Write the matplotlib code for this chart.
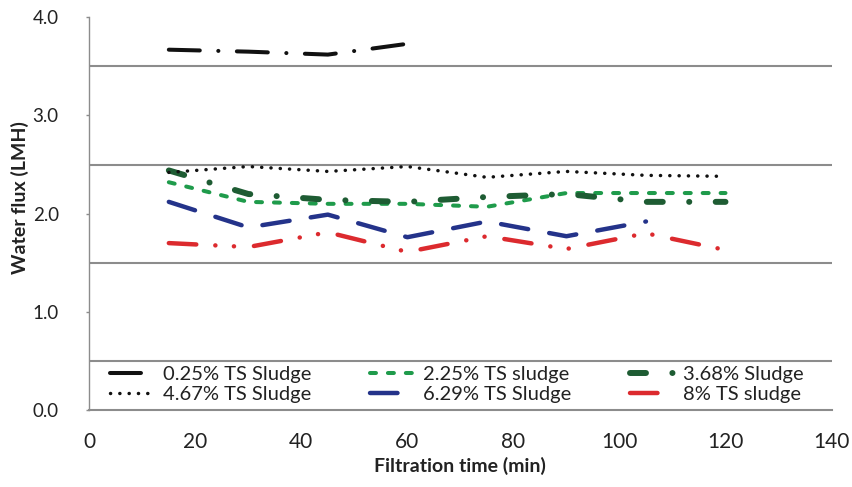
import matplotlib
matplotlib.use("Agg")
import matplotlib.pyplot as plt
from matplotlib.legend import Legend
from matplotlib.ticker import FixedLocator, FormatStrFormatter

plt.rcParams['font.family'] = ['Lato', 'DejaVu Sans']
plt.rcParams['lines.scale_dashes'] = False

# Sampling times (min)
time = [15, 30, 45, 60, 75, 90, 105, 120]

# Water flux (LMH) per sludge concentration
flux_025 = [3.67, 3.65, 3.62, 3.73]
flux_225 = [2.32, 2.12, 2.10, 2.10, 2.07, 2.21, 2.21, 2.21]
flux_368 = [2.44, 2.20, 2.14, 2.12, 2.17, 2.20, 2.12, 2.12]
flux_467 = [2.42, 2.48, 2.43, 2.48, 2.37, 2.43, 2.39, 2.38]
flux_629 = [2.12, 1.86, 1.99, 1.76, 1.92, 1.77, 1.92]
flux_8 = [1.70, 1.66, 1.81, 1.61, 1.77, 1.64, 1.80, 1.63]

labels = ["0.25% TS Sludge", "2.25% TS sludge", "3.68% Sludge",
          "4.67% TS Sludge", "6.29% TS Sludge", "8% TS sludge"]

x_ticks = [0, 20, 40, 60, 80, 100, 120, 140]
y_ticks = [0.0, 1.0, 2.0, 3.0, 4.0]
y_grid = [0.5, 1.5, 2.5, 3.5]

fig = plt.figure(figsize=(8.53, 4.87), dpi=100)
ax = fig.add_axes([0.1047, 0.1581, 0.8701, 0.8064])

common = dict(dash_capstyle='round', solid_capstyle='round')
l025, = ax.plot(time[:len(flux_025)], flux_025, color='#111111', lw=2.9,
                dashes=(22.3, 13.3, 0.1, 13.3), label=labels[0], **common)
l225, = ax.plot(time, flux_225, color='#1f9b4b', lw=2.9,
                dashes=(4.3, 8.6), label=labels[1], **common)
l368, = ax.plot(time, flux_368, color='#1e5c33', lw=4.3,
                dashes=(11.5, 19.0, 0.1, 19.0), label=labels[2], **common)
l467, = ax.plot(time, flux_467, color='#111111', lw=2.5,
                dashes=(0.1, 6.6), label=labels[3], **common)
l629, = ax.plot(time[:len(flux_629)], flux_629, color='#24338a', lw=3.2,
                dashes=(19.8, 15.4), label=labels[4], **common)
l8, = ax.plot(time, flux_8, color='#dc2a2e', lw=3.2,
              dashes=(19.8, 13.7, 0.1, 13.3, 0.1, 14.4), label=labels[5], **common)

ax.set_xlim(0, 140)
ax.set_ylim(0, 4)
ax.set_xticks(x_ticks)
ax.set_yticks(y_ticks)
ax.yaxis.set_major_formatter(FormatStrFormatter('%.1f'))
ax.yaxis.set_minor_locator(FixedLocator(y_grid))
ax.grid(which='minor', axis='y', color='#8c8c8c', lw=1.5)
ax.tick_params(axis='y', which='minor', length=0)
ax.tick_params(axis='y', which='major', direction='out', length=2.5,
               width=1.0, color='#8c8c8c', pad=19.5, labelsize=13.5,
               labelcolor='#222222')
ax.tick_params(axis='x', length=0, pad=15.5, labelsize=15, labelcolor='#222222')

for side in ('top', 'right'):
    ax.spines[side].set_visible(False)
ax.spines['left'].set_color('#8c8c8c')
ax.spines['left'].set_linewidth(1.0)
ax.spines['bottom'].set_color('#8c8c8c')
ax.spines['bottom'].set_linewidth(1.5)

ax.set_xlabel("Filtration time (min)", fontsize=14, fontweight='bold',
              color='#222222', va='center')
ax.xaxis.set_label_coords(0.5, -0.1425)
ax.set_ylabel("Water flux (LMH)", fontsize=14, fontweight='bold',
              color='#222222', va='center')
ax.yaxis.set_label_coords(-0.093, 0.54)

# Legend: three columns of two entries each
columns = [(3.9, [l025, l467]), (53.0, [l225, l629]), (102.0, [l368, l8])]
for x0, handles in columns:
    leg = Legend(ax, handles, [h.get_label() for h in handles],
                 loc='center left',
                 bbox_to_anchor=(x0, 0.26), bbox_transform=ax.transData,
                 frameon=False, borderpad=0, borderaxespad=0,
                 handlelength=2.24, handletextpad=0.40,
                 labelspacing=0.14, fontsize=14.5)
    for t in leg.get_texts():
        t.set_color('#222222')
    ax.add_artist(leg)

fig.savefig('out.png', dpi=100)
